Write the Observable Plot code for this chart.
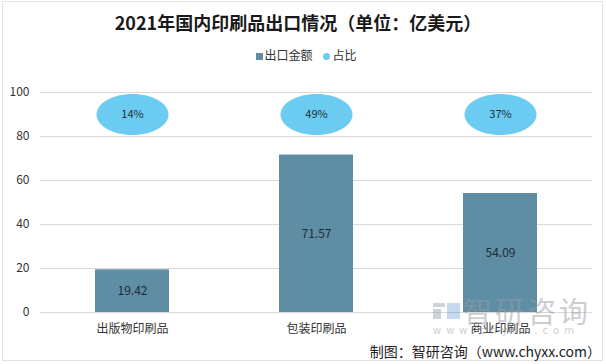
<!DOCTYPE html>
<html>
<head>
<meta charset="utf-8">
<script src="https://cdn.jsdelivr.net/npm/d3@7"></script>
<script src="https://cdn.jsdelivr.net/npm/@observablehq/plot@0.6"></script>
<style>
  html, body { margin: 0; padding: 0; background: #fff; }
  #wrap { position: relative; width: 606px; height: 364px; overflow: hidden; font-family: "Noto Sans CJK SC", "Noto Sans", sans-serif; }
  #frame { position: absolute; left: 2px; top: 1px; width: 601px; height: 360px; border: 1px solid #e2e2e2; box-sizing: border-box; }
  #title { position: absolute; left: 0; width: 596px; top: 8px; text-align: center; font-size: 18px; font-weight: bold; color: #1a1a1a; line-height: 28px; }
  #legend { position: absolute; left: 0; width: 612px; top: 46px; text-align: center; font-size: 12px; color: #333; line-height: 18px; }
  #legend span.sw { display: inline-block; width: 7px; height: 7px; margin-right: 2px; vertical-align: 0px; }
  #chart { position: absolute; left: 0; top: 70px; }
  #wm1 { position: absolute; left: 463px; top: 294px; font-size: 29px; color: rgba(150,156,166,0.5); letter-spacing: 3px; line-height: 32px; white-space: nowrap; }
  #wmlogo { position: absolute; left: 433px; top: 303px; width: 27px; height: 16px; }
  #wm2 { position: absolute; left: 433px; top: 325px; font-size: 10px; color: rgba(150,156,166,0.5); letter-spacing: 5px; line-height: 12px; white-space: nowrap; font-family: "DejaVu Sans", sans-serif; }
  #footer { position: absolute; right: 5px; top: 342px; font-size: 14px; color: #222; line-height: 18px; white-space: nowrap; }
</style>
</head>
<body>
<div id="wrap">
  <div id="frame"></div>
  <div id="title">2021年国内印刷品出口情况（单位：亿美元）</div>
  <div id="legend"><span class="sw" style="background:#5f8ea4"></span>出口金额&nbsp;&nbsp;&nbsp;&nbsp;<span class="sw" style="background:#6ccbf0;border-radius:50%"></span>占比</div>
  <div id="chart"></div>
  <svg id="wmlogo" viewBox="0 0 27 16"><rect x="0" y="0" width="12" height="4" fill="rgba(150,156,166,0.45)"/><rect x="0" y="6" width="8" height="10" fill="rgba(150,156,166,0.45)"/><rect x="14" y="0" width="13" height="16" fill="rgba(70,130,200,0.3)"/></svg>
  <div id="wm1">智研咨询</div>
  <div id="wm2">www.chyxx.com</div>
  <div id="footer">制图：智研咨询（www.chyxx.com）</div>
</div>
<script>
const categories = ["出版物印刷品", "包装印刷品", "商业印刷品"];
const exportValues = [19.42, 71.57, 54.09];
const shares = [14, 49, 37];
const yTicks = [0, 20, 40, 60, 80, 100];

const data = categories.map((c, i) => ({ cat: c, value: exportValues[i], share: shares[i] }));

const ellipse = {
  draw(ctx) {
    const a = 36, b = 20.5, k = 0.5523;
    ctx.moveTo(a, 0);
    ctx.bezierCurveTo(a, b * k, a * k, b, 0, b);
    ctx.bezierCurveTo(-a * k, b, -a, b * k, -a, 0);
    ctx.bezierCurveTo(-a, -b * k, -a * k, -b, 0, -b);
    ctx.bezierCurveTo(a * k, -b, a, -b * k, a, 0);
    ctx.closePath();
  }
};

const chart = Plot.plot({
  width: 606,
  height: 270,
  marginTop: 22,
  marginBottom: 28,
  marginLeft: 40,
  marginRight: 14,
  style: { fontFamily: "'Noto Sans CJK SC', 'Noto Sans', sans-serif", fontSize: "12px", color: "#333", background: "transparent" },
  x: { domain: categories, paddingInner: 0.6, paddingOuter: 0.3, label: null, tickSize: 0, tickPadding: 12 },
  y: { domain: [0, 100], ticks: yTicks, label: null, tickSize: 0, tickPadding: 11 },
  marks: [
    Plot.ruleY(yTicks, { stroke: "#d9d9d9", strokeWidth: 1 }),
    Plot.barY(data, { x: "cat", y: "value", fill: "#5f8ea4" }),
    Plot.text(data, { x: "cat", y: d => d.value / 2, text: d => d.value.toFixed(2), fill: "#1c2b3a", fontSize: 12 }),
    Plot.dot(data, { x: "cat", y: () => 90, symbol: ellipse, r: 20, fill: "#6ccbf0", stroke: "none" }),
    Plot.text(data, { x: "cat", y: () => 90, text: d => d.share + "%", fill: "#1c2b3a", fontSize: 11 })
  ]
});
document.getElementById("chart").appendChild(chart);
</script>
</body>
</html>
